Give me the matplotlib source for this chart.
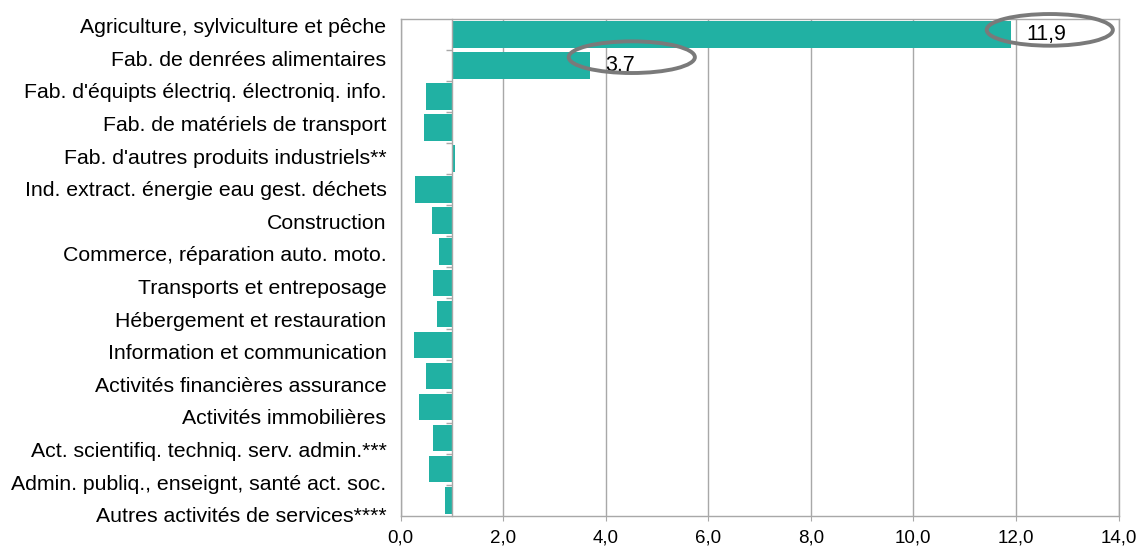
import matplotlib
matplotlib.use("Agg")
import matplotlib.pyplot as plt
import matplotlib.transforms as mtransforms
from matplotlib.patches import Ellipse
import numpy as np

plt.rcParams['font.family'] = ['Liberation Sans', 'DejaVu Sans']

categories = [
    "Agriculture, sylviculture et pêche",
    "Fab. de denrées alimentaires",
    "Fab. d'équipts électriq. électroniq. info.",
    "Fab. de matériels de transport",
    "Fab. d'autres produits industriels**",
    "Ind. extract. énergie eau gest. déchets",
    "Construction",
    "Commerce, réparation auto. moto.",
    "Transports et entreposage",
    "Hébergement et restauration",
    "Information et communication",
    "Activités financières assurance",
    "Activités immobilières",
    "Act. scientifiq. techniq. serv. admin.***",
    "Admin. publiq., enseignt, santé act. soc.",
    "Autres activités de services****",
]
values = [11.9, 3.7, 0.49, 0.46, 1.06, 0.29, 0.61, 0.76, 0.64, 0.71,
          0.26, 0.49, 0.37, 0.64, 0.56, 0.86]
base_value = 1.0
highlighted = [0, 1]
xticks = [0, 2, 4, 6, 8, 10, 12, 14]
xtick_labels = ["0,0", "2,0", "4,0", "6,0", "8,0", "10,0", "12,0", "14,0"]

BAR = "#21B1A3"
GRID = "#A8A8A8"
ELL = "#7A7A7A"

fig = plt.figure(figsize=(11.39, 5.48), dpi=100)
ax = fig.add_axes([400.5 / 1139, 1 - 515.7 / 548, 718 / 1139, (515.7 - 19) / 548])

y = np.arange(len(categories))
widths = [v - base_value for v in values]
ax.barh(y, widths, left=base_value, height=0.86, color=BAR, zorder=3)

ax.set_xlim(0, 14)
ax.set_ylim(len(categories) - 0.5, -0.5)
ax.set_xticks(xticks)
ax.set_xticklabels(xtick_labels, fontsize=13.5)
ax.set_yticks([])
ax.tick_params(axis='x', direction='out', length=3.6, color=GRID, pad=6)
ax.xaxis.grid(True, color=GRID, linewidth=1.0, zorder=0)
for s in ax.spines.values():
    s.set_color(GRID)
    s.set_linewidth(1.0)

# category labels (spaced slightly wider than the bars, as in the source)
label_step = 1.05
label_offset = -0.22
trans = mtransforms.blended_transform_factory(ax.transAxes, ax.transData)
trans = trans + mtransforms.ScaledTranslation(-14 / 100, 0, fig.dpi_scale_trans)
for i, name in enumerate(categories):
    ax.text(0, i * label_step + label_offset, name, transform=trans,
            ha='right', va='center', fontsize=15.3, clip_on=False)

# axis line crossing at 1.0 with category boundary ticks
sec = ax.secondary_yaxis(base_value / 14.0)
sec.set_yticks(np.arange(len(categories) - 1) + 0.5)
sec.set_yticklabels([])
sec.tick_params(axis='y', direction='out', length=4.5, color=GRID, width=1.0)
sec.spines['left'].set_color(GRID)
sec.spines['left'].set_linewidth(1.0)
for s in ['right', 'top', 'bottom']:
    sec.spines[s].set_visible(False)
sec.set_zorder(4)

# highlighted value labels with ellipses
ell_dx = [0.76, 0.81]
ell_dy = [-0.15, -0.27]
for k, i in enumerate(highlighted):
    v = values[i]
    ax.annotate(f"{v:.1f}".replace(".", ","), xy=(v, i), xytext=(11, 0),
                textcoords='offset points', ha='left', va='center',
                fontsize=15.5, zorder=5)
    e = Ellipse((v + ell_dx[k], i + ell_dy[k]), 2.46, 1.02, fill=False,
                edgecolor=ELL, linewidth=2.8, zorder=6, clip_on=False)
    ax.add_patch(e)

fig.savefig("out.png", dpi=100)
